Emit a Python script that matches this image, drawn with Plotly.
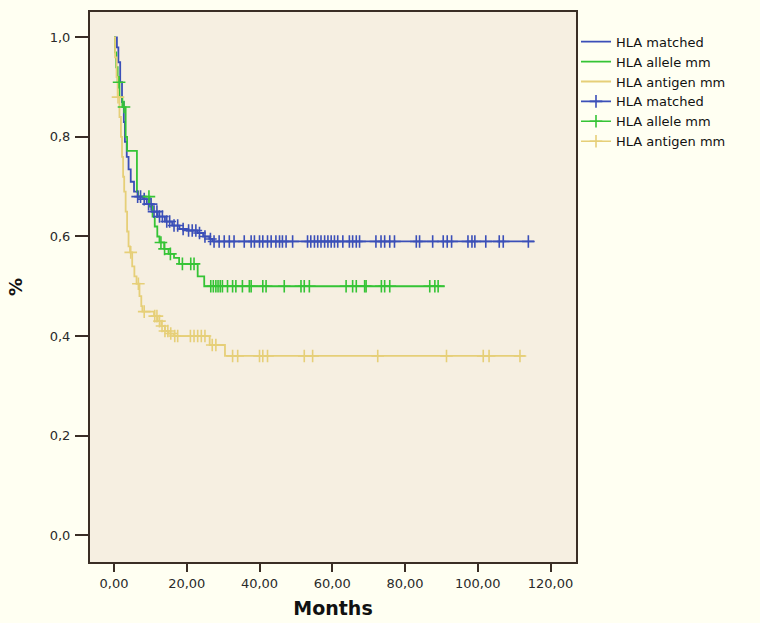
import numpy as np
import plotly.graph_objects as go

# ---- data ----
blue_t = [0, 0.8, 1.2, 1.7, 2.2, 2.7, 3.0, 3.5, 4.0, 4.6, 5.5, 6.5, 8.0, 9.0, 10.5, 12.0, 14.0,
          16.0, 18.0, 20.0, 23.0, 24.5, 26.2, 27.0, 115.5]
blue_s = [1.0, 0.98, 0.95, 0.91, 0.87, 0.83, 0.79, 0.76, 0.735, 0.71, 0.69, 0.68, 0.675, 0.665,
          0.65, 0.64, 0.63, 0.622, 0.615, 0.612, 0.607, 0.60, 0.595, 0.59, 0.59]
blue_c = [6.5, 7.3, 8.3, 9.5, 10.2, 11.0, 11.8, 12.5, 13.3, 14.5, 15.3, 16.5, 17.5, 19.0, 20.5,
          21.5, 22.5, 23.5, 25.0, 26.5, 27.5, 28.9, 30.3, 31.7, 33.0, 35.8, 37.7, 38.6, 40.0, 40.9,
          42.2, 43.2, 44.5, 45.5, 46.3, 47.3, 49.1, 53.2, 54.1, 55.1, 56.0, 56.9, 57.9, 58.8, 59.7,
          60.6, 61.5, 62.9, 64.7, 65.6, 66.6, 67.5, 72.0, 73.4, 74.4, 75.8, 77.1, 83.1, 84.0, 87.6,
          90.5, 91.6, 92.8, 97.3, 98.4, 99.2, 102.2, 105.9, 107.0, 113.9]

green_t = [0, 0.3, 0.6, 1.0, 1.5, 2.3, 3.2, 3.6, 6.3, 6.6, 9.8, 10.6, 11.2, 11.9, 12.5, 13.8,
           15.0, 16.5, 17.9, 23.0, 24.8, 90.9]
green_s = [1.0, 0.97, 0.94, 0.91, 0.88, 0.86, 0.80, 0.772, 0.69, 0.68, 0.66, 0.64, 0.62, 0.60,
           0.588, 0.575, 0.565, 0.557, 0.545, 0.52, 0.50, 0.50]
green_c = [1.4, 2.75, 9.6, 12.9, 13.9, 15.5, 18.8, 21.1, 22.0, 26.6, 27.3, 28.0, 28.6, 29.2, 29.8,
           31.2, 32.6, 33.5, 35.3, 37.2, 37.7, 40.9, 41.8, 46.8, 51.4, 52.3, 53.7, 63.8, 65.6,
           66.6, 68.9, 69.3, 73.5, 74.4, 75.8, 86.8, 88.2, 89.1]

yellow_t = [0, 0.3, 0.7, 1.0, 1.5, 1.9, 2.2, 2.5, 2.8, 3.2, 3.6, 4.0, 4.4, 5.0, 5.6, 6.2, 7.0,
            7.5, 7.8, 11.0, 12.0, 13.0, 14.0, 15.0, 16.5, 26.3, 30.5, 113.0]
yellow_s = [1.0, 0.96, 0.92, 0.88, 0.84, 0.80, 0.76, 0.72, 0.69, 0.65, 0.61, 0.58, 0.568, 0.54,
            0.52, 0.505, 0.48, 0.46, 0.449, 0.44, 0.43, 0.42, 0.41, 0.405, 0.40, 0.382, 0.36, 0.36]
yellow_c = [1.1, 4.6, 6.7, 8.3, 11.2, 11.8, 12.5, 13.2, 14.0, 14.8, 15.6, 16.7, 17.5, 21.0, 22.0,
            23.0, 24.0, 25.0, 27.0, 28.0, 32.6, 34.0, 40.0, 40.9, 42.2, 52.3, 54.6, 72.5, 91.4,
            101.5, 103.1, 111.6]

names = ["HLA matched", "HLA allele mm", "HLA antigen mm"]
colors = ["#3B4FB8", "#35C435", "#E6CF78"]

x_tickvals = [0, 20, 40, 60, 80, 100, 120]
x_ticktext = ["0,00", "20,00", "40,00", "60,00", "80,00", "100,00", "120,00"]
y_tickvals = [0.0, 0.2, 0.4, 0.6, 0.8, 1.0]
y_ticktext = ["0,0", "0,2", "0,4", "0,6", "0,8", "1,0"]


def surv_at(ts, ss, c):
    ts = np.asarray(ts)
    idx = np.searchsorted(ts, c, side="right") - 1
    return list(np.asarray(ss)[idx])


fig = go.Figure()
series = [(blue_t, blue_s, blue_c), (green_t, green_s, green_c), (yellow_t, yellow_s, yellow_c)]

for (t, s, c), nm, col in zip(series, names, colors):
    fig.add_trace(go.Scatter(x=t, y=s, mode="lines", line=dict(color=col, width=1.8, shape="hv"),
                             name=nm, showlegend=True))
for (t, s, c), nm, col in zip(series, names, colors):
    fig.add_trace(go.Scatter(x=c, y=surv_at(t, s, c), mode="markers",
                             marker=dict(symbol="cross-thin", size=9, line=dict(color=col, width=1.6)),
                             name=nm, showlegend=False))
for nm, col in zip(names, colors):
    fig.add_trace(go.Scatter(x=[None], y=[None], mode="lines+markers",
                             line=dict(color=col, width=1.6),
                             marker=dict(symbol="cross-thin", size=9, line=dict(color=col, width=1.6)),
                             name=nm, showlegend=True))

axis_line = "#3A2E25"
paper = "#FFFFF2"
fig.update_layout(
    width=760, height=623,
    margin=dict(l=90, r=184, t=12, b=61, autoexpand=False),
    paper_bgcolor=paper,
    plot_bgcolor="#F6EFE1",
    font=dict(family="DejaVu Sans", size=13, color="#2A2A2A"),
    showlegend=True,
    legend=dict(x=1.0, xanchor="left", y=0.855, yanchor="middle", xref="paper", yref="paper",
                bgcolor="rgba(0,0,0,0)", font=dict(size=13, color="#111111"),
                tracegroupgap=0, itemwidth=30),
    xaxis=dict(range=[-6.6, 127], tickvals=x_tickvals, ticktext=x_ticktext, showgrid=False,
               zeroline=False, showline=True, mirror=True, linecolor=axis_line, linewidth=2,
               ticks="outside", ticklen=8, tickwidth=2, tickcolor=axis_line, automargin=False,
               title=dict(text="<b>Months</b>", font=dict(size=19, color="#111111"), standoff=12)),
    yaxis=dict(range=[-0.054, 1.051], tickvals=y_tickvals, ticktext=y_ticktext, showgrid=False,
               zeroline=False, showline=True, mirror=True, linecolor=axis_line, linewidth=2,
               ticks="outside", ticklen=13, tickwidth=2, tickcolor=axis_line, ticklabelstandoff=2,
               automargin=False,
               title=dict(text="<b>%</b>", font=dict(size=18, color="#111111"), standoff=22)),
)

fig.write_html("out.html", config={"displayModeBar": False},
               post_script="document.body.style.margin='0';document.body.style.background='%s';" % paper)
